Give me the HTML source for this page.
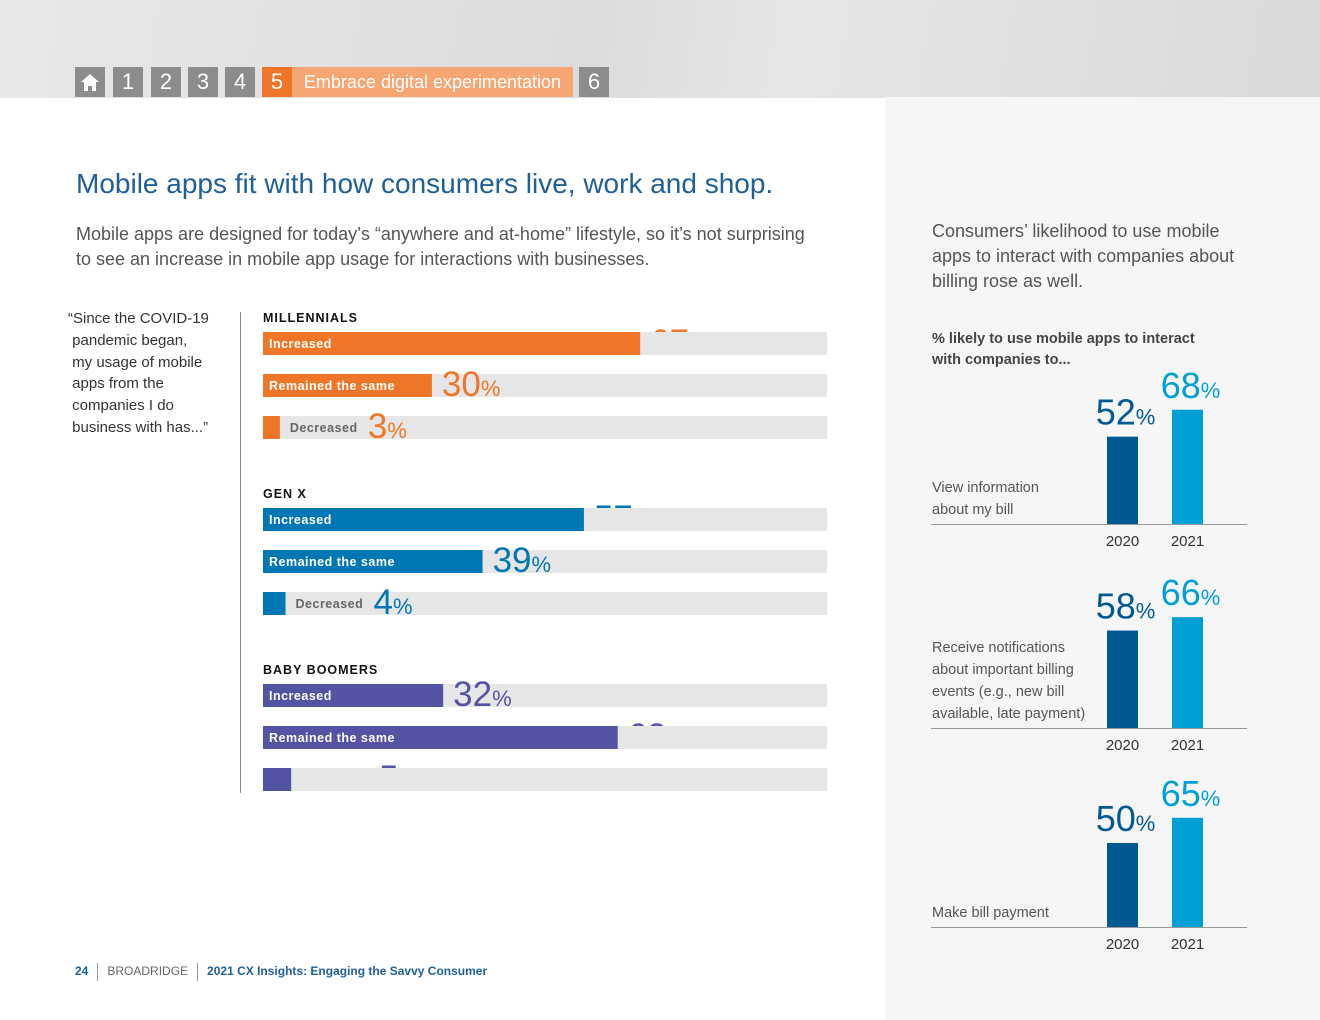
<!DOCTYPE html>
<html><head><meta charset="utf-8">
<style>
body{margin:0;width:1320px;height:1020px;position:relative;overflow:hidden;background:#fff;font-family:"Liberation Sans",sans-serif;}
.abs{position:absolute;}
.nav{position:absolute;top:67px;height:30px;background:#8c8c8c;color:#fff;font-size:22px;line-height:30px;text-align:center;}
</style></head>
<body>
<div class="abs" style="left:0;top:0;width:1320px;height:98px;background:linear-gradient(100deg,#e8e8e8 0%,#dcdcdc 45%,#e6e6e6 60%,#d9d9d9 100%);"></div>
<div class="abs" style="left:885px;top:97px;width:435px;height:923px;background:#f6f6f6;"></div>

<div class="nav" style="left:75px;width:30px;">
<svg width="30" height="30" viewBox="0 0 30 30"><path d="M6 15 L15 7 L24 15 L21 15 L21 24 L17 24 L17 19 L13 19 L13 24 L9 24 L9 15Z" fill="#fff"/></svg></div>
<div class="nav" style="left:113px;width:30px;">1</div>
<div class="nav" style="left:151px;width:30px;">2</div>
<div class="nav" style="left:188px;width:30px;">3</div>
<div class="nav" style="left:225px;width:30px;">4</div>
<div class="nav" style="left:262px;width:30px;background:#ef7628;">5</div>
<div class="nav" style="left:292px;width:281px;background:#f5a673;font-size:18px;">Embrace digital experimentation</div>
<div class="nav" style="left:579px;width:30px;">6</div>

<div class="abs" style="left:76px;top:168px;font-size:28px;color:#1f5f97;white-space:nowrap;">Mobile apps fit with how consumers live, work and shop.</div>
<div class="abs" style="left:76px;top:222px;font-size:18px;line-height:25px;color:#555;width:735px;">Mobile apps are designed for today’s “anywhere and at-home” lifestyle, so it’s not surprising to see an increase in mobile app usage for interactions with businesses.</div>

<div class="abs" style="left:68px;top:308px;font-size:15px;line-height:21.8px;color:#333;width:160px;">“Since the COVID-19<br>&nbsp;pandemic began,<br>&nbsp;my usage of mobile<br>&nbsp;apps from the<br>&nbsp;companies I do<br>&nbsp;business with has...”</div>
<div class="abs" style="left:240px;top:312px;width:1px;height:481px;background:#888;"></div>

<div class="abs" style="left:932px;top:219px;font-size:18px;line-height:25px;color:#555;width:320px;">Consumers’ likelihood to use mobile apps to interact with companies about billing rose as well.</div>
<div class="abs" style="left:932px;top:329px;font-size:14.5px;line-height:21px;font-weight:bold;color:#444;width:275px;">% likely to use mobile apps to interact with companies to...</div>

<svg id="chart" class="abs" style="left:0;top:0" width="1320" height="1020"></svg>

<div class="abs" style="left:75px;top:963px;font-size:12px;color:#1f5f97;white-space:nowrap;">
<b>24</b><span style="display:inline-block;width:1px;height:18px;background:#999;vertical-align:middle;margin:0 9px;"></span><span style="color:#666;">BROADRIDGE</span><span style="display:inline-block;width:1px;height:18px;background:#999;vertical-align:middle;margin:0 9px;"></span><b>2021 CX Insights: Engaging the Savvy Consumer</b></div>

<script>
// Left chart data
const groups = ['MILLENNIALS','GEN X','BABY BOOMERS'];
const rowLabels = ['Increased','Remained the same','Decreased'];
const millennials = [67,30,3];
const genx = [57,39,4];
const boomers = [32,63,5];
const labelHidden = [[true,false,false],[true,false,false],[false,true,true]];
// Right chart data
const categories = ['View information about my bill','Receive notifications about important billing events (e.g., new bill available, late payment)','Make bill payment'];
const years = ['2020','2021'];
const values2020 = [52,58,50];
const values2021 = [68,66,65];

const NS='http://www.w3.org/2000/svg';
const svg=document.getElementById('chart');
function mk(tag,attrs,parent){const e=document.createElementNS(NS,tag);for(const k in attrs)e.setAttribute(k,attrs[k]);(parent||svg).appendChild(e);return e;}
const FONT='"Liberation Sans",sans-serif';

const trackX=263, trackW=564;
const xScale=v=>v/100*563;
const groupColors=['#ef7628','#0077b5','#5254a3'];
const groupTop=[332,508,684];
const rowGap=42, barH=23;
const seriesAll=[millennials,genx,boomers];

function valueLabel(x,y,v,color,name){
  const t=mk('text',{x:x,y:y+22,fill:color,'font-family':FONT,'font-size':35});
  
  
  t.textContent=v;
  const p=mk('tspan',{'font-size':22},t);p.textContent='%';
  return t;
}

groups.forEach((g,gi)=>{
  const gt=mk('text',{x:263,y:groupTop[gi]-10,'font-family':FONT,'font-size':12.5,'font-weight':'bold','letter-spacing':'1',fill:'#111'});
  
  
  gt.textContent=g;
  seriesAll[gi].forEach((v,ri)=>{
    const y=groupTop[gi]+ri*rowGap;
    const w=xScale(v);
    const isDec=ri===2;
    const lx=isDec? trackX+w+88 : trackX+w+10;
    if(labelHidden[gi][ri]) valueLabel(lx,y,v,groupColors[gi],'value-label');
    const tr=mk('rect',{x:trackX,y:y,width:trackW,height:barH,fill:'#e6e6e6'});
    
    
    const b=mk('rect',{x:trackX,y:y,width:w,height:barH,fill:groupColors[gi]});
    
    
    if(!(isDec && gi===2)){
      const lt=mk('text',{x:isDec?trackX+w+10:269,y:y+16,'font-family':FONT,'font-size':12.5,'font-weight':'bold','letter-spacing':'0.5',fill:isDec?'#666':'#fff'});
      
      
      lt.textContent=rowLabels[ri];
    }
    if(!labelHidden[gi][ri]) valueLabel(lx,y,v,groupColors[gi],'value-label');
  });
});

const baselines=[524,728,927];
const yScale=v=>v*1.68;
const barX=[1107,1172], bW=31;
const yColors=['#005a91','#00a0d6'];
const catLines=[['View information','about my bill'],['Receive notifications','about important billing','events (e.g., new bill','available, late payment)'],['Make bill payment']];
categories.forEach((c,ci)=>{
  const base=baselines[ci];
  const vals=[values2020[ci],values2021[ci]];
  vals.forEach((v,yi)=>{
    const h=yScale(v);
    const r=mk('rect',{x:barX[yi],y:base-h,width:bW,height:h,fill:yColors[yi]});
    
    
    const t=mk('text',{x:barX[yi]+bW/2+3,y:base-h-12,'text-anchor':'middle',fill:yColors[yi],'font-family':FONT,'font-size':36});
    
    
    t.textContent=v;
    const p=mk('tspan',{'font-size':22},t);p.textContent='%';
    const yl=mk('text',{x:barX[yi]+bW/2,y:base+22,'text-anchor':'middle',fill:'#333','font-family':FONT,'font-size':15});
    
    
    yl.textContent=years[yi];
  });
  const ln=mk('line',{x1:931,x2:1247,y1:base+0.5,y2:base+0.5,stroke:'#999','stroke-width':1});
  
  
  const lines=catLines[ci];
  lines.forEach((s,li)=>{
    const t=mk('text',{x:932,y:base-10-(lines.length-1-li)*22,fill:'#555','font-family':FONT,'font-size':14.5});
    
    
    t.textContent=s;
  });
});
</script>
</body></html>
